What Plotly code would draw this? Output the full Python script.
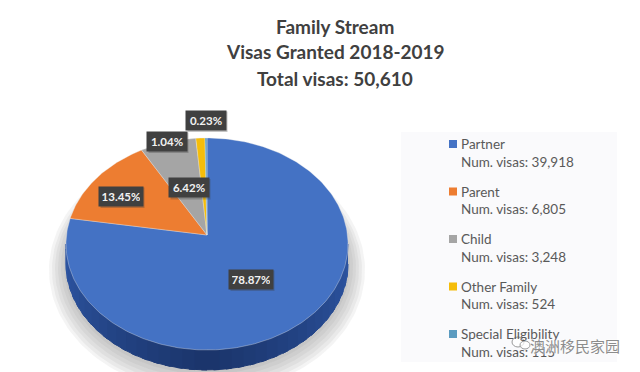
import numpy as np
import plotly.graph_objects as go

title_lines = ["Family Stream", "Visas Granted 2018-2019", "Total visas: 50,610"]
categories = ["Partner", "Parent", "Child", "Other Family", "Special Eligibility"]
visas = [39918, 6805, 3248, 524, 115]
pct_labels = ["78.87%", "13.45%", "6.42%", "1.04%", "0.23%"]
colors = ["#4472c4", "#ed7d31", "#a5a5a5", "#f5bd0a", "#5b9bc0"]
watermark = "澳洲移民家园"

# geometry of the drawing (pixels)
APEX = (207, 235)
CX, CY, RX, RY, DEPTH = 207, 244, 141, 106, 20
LABEL_POS = [(251, 279), (121, 196), (189, 187.5), (167, 141), (206, 120)]
LEGEND_X, LEGEND_Y, LEGEND_STEP = 453, 144, 47.5

def rim(t, dy=0, grow=0):
    return CX + (RX + grow) * np.sin(t), CY + dy - (RY + grow) * np.cos(t)

fig = go.Figure()

def poly(x, y, fill, line=None, width=0):
    fig.add_trace(go.Scatter(
        x=list(x), y=list(y), mode="lines", fill="toself", fillcolor=fill,
        line=dict(color=line or "rgba(0,0,0,0)", width=width),
        hoverinfo="skip", showlegend=False))

# soft shadow under the disc
all_t = np.linspace(0, 2 * np.pi, 181)
for grow, dy in [(17, 26), (14, 26), (11, 25), (8, 24), (5, 23), (2, 22)]:
    sx, sy = rim(all_t, dy, grow)
    poly(sx, sy, "rgba(110,110,110,0.08)")

# extruded side of the disc: darkest at the front, painted so each band overlaps the next
edges = np.linspace(np.pi / 2, 3 * np.pi / 2, 37)
for a, b in zip(edges[:-1], edges[1:]):
    t = np.linspace(a, min(b + 0.04, 3 * np.pi / 2), 4)
    mid = (a + b) / 2
    k = abs(mid - np.pi) / (np.pi / 2)
    r, g, bl = 26 + 20 * k, 52 + 34 * k, 106 + 58 * k
    x1, y1 = rim(t)
    x2, y2 = rim(t[::-1], DEPTH)
    col = f"rgb({r:.0f},{g:.0f},{bl:.0f})"
    poly(np.r_[x1, x2], np.r_[y1, y2], col, col, 1)

# top face: wedges from the values
total = sum(visas)
angle = 0.0
for v, c in zip(visas, colors):
    sweep = v / total * 2 * np.pi
    t = np.linspace(angle, angle + sweep, max(3, int(sweep * 60)))
    rx_, ry_ = rim(t)
    poly(np.r_[APEX[0], rx_, APEX[0]], np.r_[APEX[1], ry_, APEX[1]], c,
         "rgba(235,235,235,0.7)", 0.5)
    angle += sweep

shapes = [dict(type="rect", x0=401, x1=617, y0=132, y1=362, fillcolor="#fafafc",
               line=dict(width=0), layer="below")]

annotations = []
for i, line in enumerate(title_lines):
    annotations.append(dict(x=335, y=[26, 51, 78][i], text=f"<b>{line}</b>", showarrow=False,
                            font=dict(family="Lato", size=19, color="#404040"),
                            xanchor="center", yanchor="middle"))

# percentage labels with dark boxes
for (lx, ly), txt in zip(LABEL_POS, pct_labels):
    w = 20 + (len(txt) - 5) * 2
    shapes.append(dict(type="rect", x0=lx - w + 1.5, x1=lx + w + 1.5, y0=ly - 8.5, y1=ly + 12,
                       fillcolor="rgba(60,60,60,0.3)", line=dict(width=0), layer="above"))
    annotations.append(dict(x=lx, y=ly, text=f"<b>{txt}</b>", showarrow=False,
                            font=dict(family="Lato", size=11.5, color="#f2f2f2"),
                            bgcolor="#404040", borderpad=3, width=2 * w - 6,
                            xanchor="center", yanchor="middle"))

# legend
leg_y = [LEGEND_Y + i * LEGEND_STEP for i in range(len(categories))]
fig.add_trace(go.Scatter(
    x=[LEGEND_X] * len(categories), y=leg_y, mode="markers",
    marker=dict(symbol="square", size=8, color=colors), hoverinfo="skip", showlegend=False))
for name, v, y in zip(categories, visas, leg_y):
    annotations.append(dict(x=459, y=y, text=name, showarrow=False, xanchor="left", yanchor="middle",
                            font=dict(family="Lato", size=13.5, color="#595959")))
    annotations.append(dict(x=459, y=y + 17.5, text=f"Num. visas: {v:,}", showarrow=False,
                            xanchor="left", yanchor="middle",
                            font=dict(family="Lato", size=13.5, color="#595959")))

# watermark
annotations.append(dict(x=575, y=345, text=watermark, showarrow=False, xanchor="center",
                        yanchor="middle",
                        font=dict(family="Noto Sans CJK SC", size=15, color="#8c8c8c",
                                  shadow="0 0 2px #ffffff, 0 0 2px #ffffff")))
x0w, y0w = 512, 342
shapes += [
    dict(type="circle", x0=x0w, x1=x0w + 12, y0=y0w - 5, y1=y0w + 5, line=dict(color="#9a9a9a", width=1),
         fillcolor="rgba(255,255,255,0.7)", layer="above"),
    dict(type="circle", x0=x0w + 8, x1=x0w + 18, y0=y0w - 1, y1=y0w + 7, line=dict(color="#9a9a9a", width=1),
         fillcolor="rgba(255,255,255,0.7)", layer="above"),
]

fig.update_layout(
    width=640, height=372, margin=dict(l=0, r=0, t=0, b=0),
    paper_bgcolor="white", plot_bgcolor="white", showlegend=False,
    xaxis=dict(range=[0, 640], visible=False, fixedrange=True),
    yaxis=dict(range=[372, 0], visible=False, fixedrange=True),
    shapes=shapes, annotations=annotations)

fig.write_html("out.html", config=dict(displayModeBar=False),
               post_script="document.body.style.margin='0';document.body.style.overflow='hidden';")
